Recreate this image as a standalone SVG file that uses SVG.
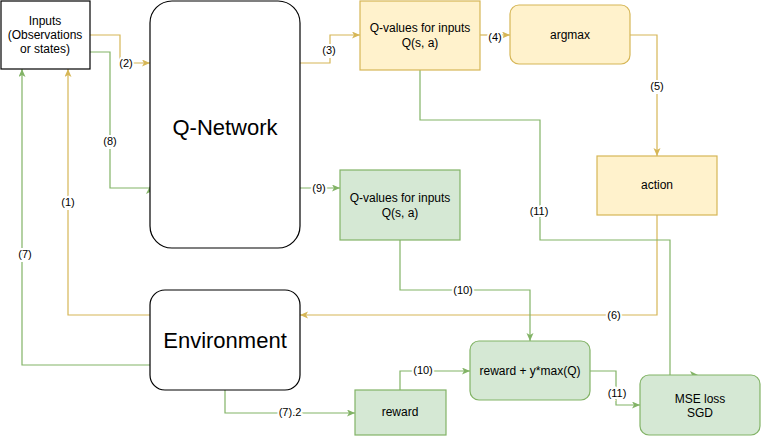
<svg xmlns="http://www.w3.org/2000/svg" width="761" height="437" viewBox="0 0 761 437">
<defs>
<marker id="ao" markerWidth="9" markerHeight="8" refX="8" refY="3.5" orient="auto" markerUnits="userSpaceOnUse"><path d="M0,0 L8,3.5 L0,7 L2,3.5 z" fill="#d6b656"/></marker>
<marker id="ag" markerWidth="9" markerHeight="8" refX="8" refY="3.5" orient="auto" markerUnits="userSpaceOnUse"><path d="M0,0 L8,3.5 L0,7 L2,3.5 z" fill="#82b366"/></marker>
</defs>
<style>
text{font-family:"Liberation Sans",Arial,sans-serif;fill:#000;text-anchor:middle}
.t{font-size:12px}
.big{font-size:22px}
.lbl{font-size:11px;stroke:#fff;stroke-width:4px;paint-order:stroke;dominant-baseline:central}
.o{fill:none;stroke:#d6b656;stroke-width:1.2}
.g{fill:none;stroke:#82b366;stroke-width:1.2}
.bo{fill:#fff2cc;stroke:#d6b656;stroke-width:1.2}
.bg{fill:#d5e8d4;stroke:#82b366;stroke-width:1.2}
.bk{fill:#fff;stroke:#000;stroke-width:1.2}
</style>
<g id="connectors">
<path class="o" d="M90,35 H120 V63 H150" marker-end="url(#ao)"/>
<text class="lbl" x="126" y="63">(2)</text>
<path class="g" d="M90,52 H110 V188 H150"/>
<polygon points="150,186 146,194 150,192 154,194" fill="#82b366"/>
<text class="lbl" x="110" y="141">(8)</text>
<path class="o" d="M300,63 H330 V35 H360" marker-end="url(#ao)"/>
<text class="lbl" x="329" y="50">(3)</text>
<path class="o" d="M480,35 H510" marker-end="url(#ao)"/>
<text class="lbl" x="495" y="37">(4)</text>
<path class="o" d="M630,35 H657 V156" marker-end="url(#ao)"/>
<text class="lbl" x="657" y="86">(5)</text>
<path class="o" d="M657,215 V315 H300" marker-end="url(#ao)"/>
<text class="lbl" x="614" y="315">(6)</text>
<path class="o" d="M150,315 H68 V69" marker-end="url(#ao)"/>
<text class="lbl" x="68" y="202">(1)</text>
<path class="g" d="M150,365 H22 V69" marker-end="url(#ag)"/>
<text class="lbl" x="25" y="254">(7)</text>
<path class="g" d="M225,390 V413 H355" marker-end="url(#ag)"/>
<text class="lbl" x="290" y="412">(7).2</text>
<path class="g" d="M300,188 H340" marker-end="url(#ag)"/>
<text class="lbl" x="319" y="188">(9)</text>
<path class="g" d="M400,240 V290 H530 V341" marker-end="url(#ag)"/>
<text class="lbl" x="463" y="290">(10)</text>
<path class="g" d="M400,390 V371 H470" marker-end="url(#ag)"/>
<text class="lbl" x="423" y="370">(10)</text>
<path class="g" d="M420,70 V120 H540 V240 H670 V375"/>
<polygon points="690,371 698,375 690,379 692,375" fill="#82b366"/>
<text class="lbl" x="539" y="211">(11)</text>
<path class="g" d="M590,371 H616 V405 H640" marker-end="url(#ag)"/>
<text class="lbl" x="617" y="393">(11)</text>
</g>
<g id="inputs">
<rect class="bk" x="1" y="1" width="89" height="68"/>
<text class="t" x="45" y="25">Inputs</text>
<text class="t" x="45" y="39">(Observations</text>
<text class="t" x="45" y="53">or states)</text>
</g>
<g id="qnetwork">
<rect class="bk" x="150" y="1" width="150" height="247" rx="22" ry="22"/>
<text class="big" x="225" y="135">Q-Network</text>
</g>
<g id="qvalues-top">
<rect class="bo" x="360" y="1" width="120" height="69"/>
<text class="t" x="420" y="32">Q-values for inputs</text>
<text class="t" x="420" y="47">Q(s, a)</text>
</g>
<g id="argmax">
<rect class="bo" x="510" y="5" width="120" height="59" rx="9" ry="9"/>
<text class="t" x="570" y="39">argmax</text>
</g>
<g id="action">
<rect class="bo" x="597" y="156" width="120" height="59"/>
<text class="t" x="657" y="189">action</text>
</g>
<g id="qvalues-mid">
<rect class="bg" x="340" y="170" width="120" height="70"/>
<text class="t" x="400" y="202">Q-values for inputs</text>
<text class="t" x="400" y="217">Q(s, a)</text>
</g>
<g id="environment">
<rect class="bk" x="150" y="290" width="150" height="100" rx="15" ry="15"/>
<text class="big" x="225" y="348">Environment</text>
</g>
<g id="reward">
<rect class="bg" x="355" y="390" width="91" height="45"/>
<text class="t" x="400" y="416">reward</text>
</g>
<g id="target">
<rect class="bg" x="470" y="341" width="120" height="59" rx="9" ry="9"/>
<text class="t" x="530" y="375">reward + y*max(Q)</text>
</g>
<g id="mse">
<rect class="bg" x="640" y="375" width="120" height="60" rx="9" ry="9"/>
<text class="t" x="700" y="403">MSE loss</text>
<text class="t" x="700" y="417">SGD</text>
</g>
</svg>
